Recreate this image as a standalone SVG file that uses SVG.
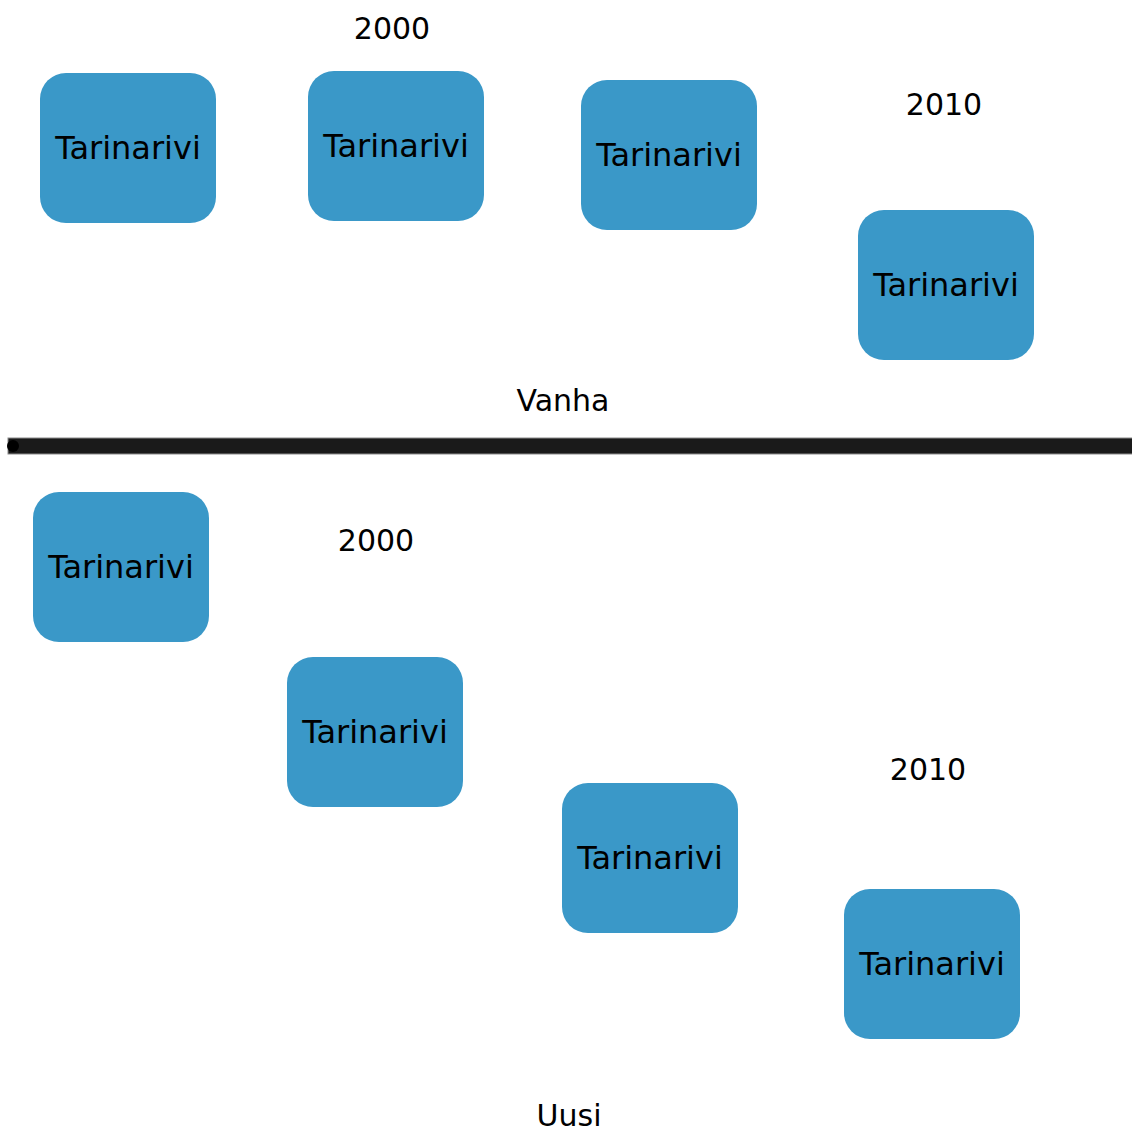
<svg xmlns="http://www.w3.org/2000/svg" width="1132" height="1133" viewBox="0 0 1132 1133">
<style>
.box{fill:#3a98c8;}
.t{font-family:"DejaVu Sans",sans-serif;font-size:30px;fill:#000;text-anchor:middle;}
.n{font-family:"DejaVu Sans",sans-serif;font-size:32px;fill:#000;text-anchor:middle;}
</style>
<rect width="1132" height="1133" fill="#fff"/>
<g id="connectors">
<rect x="8" y="438" width="1130" height="16" fill="#1a1a1a" stroke="#8a8a8a" stroke-width="1"/>
<circle cx="13" cy="446" r="6" fill="#000"/>
</g>
<g id="label-2000-top"><text class="t" x="392" y="39">2000</text></g>
<g id="label-2010-top"><text class="t" x="944" y="115">2010</text></g>
<g id="label-vanha"><text class="t" x="563" y="411">Vanha</text></g>
<g id="label-2000-bottom"><text class="t" x="376" y="551">2000</text></g>
<g id="label-2010-bottom"><text class="t" x="928" y="780">2010</text></g>
<g id="label-uusi"><text class="t" x="569" y="1126">Uusi</text></g>
<g id="node1"><rect class="box" x="40" y="73" width="176" height="150" rx="26"/><text class="n" x="128" y="159">Tarinarivi</text></g>
<g id="node2"><rect class="box" x="308" y="71" width="176" height="150" rx="26"/><text class="n" x="396" y="157">Tarinarivi</text></g>
<g id="node3"><rect class="box" x="581" y="80" width="176" height="150" rx="26"/><text class="n" x="669" y="166">Tarinarivi</text></g>
<g id="node4"><rect class="box" x="858" y="210" width="176" height="150" rx="26"/><text class="n" x="946" y="296">Tarinarivi</text></g>
<g id="node5"><rect class="box" x="33" y="492" width="176" height="150" rx="26"/><text class="n" x="121" y="578">Tarinarivi</text></g>
<g id="node6"><rect class="box" x="287" y="657" width="176" height="150" rx="26"/><text class="n" x="375" y="743">Tarinarivi</text></g>
<g id="node7"><rect class="box" x="562" y="783" width="176" height="150" rx="26"/><text class="n" x="650" y="869">Tarinarivi</text></g>
<g id="node8"><rect class="box" x="844" y="889" width="176" height="150" rx="26"/><text class="n" x="932" y="975">Tarinarivi</text></g>
</svg>
